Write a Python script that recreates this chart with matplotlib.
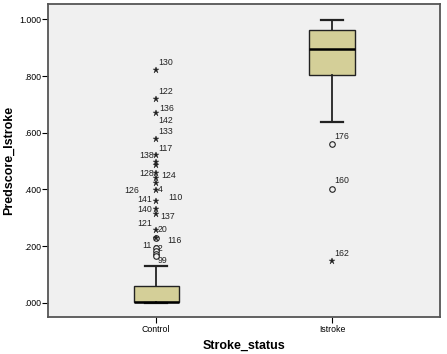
import matplotlib
matplotlib.use('Agg')
import matplotlib.pyplot as plt
from matplotlib.ticker import FuncFormatter

# groups and box statistics
groups = ['Control', 'Istroke']
q1 = [0.003, 0.803]
med = [0.004, 0.897]
q3 = [0.059, 0.963]
whis_lo = [0.000, 0.639]
whis_hi = [0.130, 0.997]

# outliers (circles) and extremes (stars) per group
control_circles = [0.230, 0.192, 0.182, 0.173, 0.165]
control_stars = [0.820, 0.718, 0.671, 0.577, 0.521, 0.496, 0.486, 0.457,
                 0.439, 0.424, 0.398, 0.360, 0.330, 0.312, 0.257, 0.230]
istroke_circles = [0.560, 0.401]
istroke_stars = [0.147]

# case labels: (group index, value, text, side, dx px, dy px)
case_labels = [
    (0, 0.820, '130', 'r', 2, 8),
    (0, 0.718, '122', 'r', 2, 8),
    (0, 0.671, '136', 'r', 3, 4),
    (0, 0.577, '142', 'r', 2, 19),
    (0, 0.577, '133', 'r', 2, 8),
    (0, 0.521, '117', 'r', 2, 7),
    (0, 0.521, '138', 'l', -2, 0),
    (0, 0.457, '128', 'l', -2, 0),
    (0, 0.457, '124', 'r', 5, -2),
    (0, 0.398, '126', 'l', -17, -1),
    (0, 0.398, '4', 'r', 2, 0),
    (0, 0.360, '141', 'l', -4, 1),
    (0, 0.360, '110', 'r', 12, 3),
    (0, 0.330, '140', 'l', -4, 0),
    (0, 0.312, '137', 'r', 4, -2),
    (0, 0.257, '121', 'l', -4, 6),
    (0, 0.257, '20', 'r', 2, 0),
    (0, 0.230, '116', 'r', 11, -3),
    (0, 0.192, '11', 'l', -4, 3),
    (0, 0.182, '82', 'r', -2, 3),
    (0, 0.165, '99', 'r', 2, -5),
    (1, 0.560, '176', 'r', 2, 8),
    (1, 0.401, '160', 'r', 2, 9),
    (1, 0.147, '162', 'r', 2, 8),
]

yticks = [0.0, 0.2, 0.4, 0.6, 0.8, 1.0]

plt.rcParams['font.family'] = ['Liberation Sans', 'DejaVu Sans']

fig = plt.figure(figsize=(4.47, 3.54), dpi=100)
ax = fig.add_axes([0.1074, 0.1045, 0.877, 0.8842])
ax.set_facecolor('#f0f0f0')

stats = []
for i in range(len(groups)):
    stats.append({'q1': q1[i], 'med': med[i], 'q3': q3[i],
                  'whislo': whis_lo[i], 'whishi': whis_hi[i],
                  'fliers': [], 'label': groups[i]})

positions = list(range(1, len(groups) + 1))
ax.bxp(stats, positions=positions, widths=0.256, capwidths=0.125,
       patch_artist=True, showfliers=False,
       boxprops=dict(facecolor='#d4cf98', edgecolor='#222222', linewidth=1.0),
       medianprops=dict(color='black', linewidth=1.8),
       whiskerprops=dict(color='#222222', linewidth=1.3),
       capprops=dict(color='#222222', linewidth=1.6))

# text first, markers on top (like the original, where stars cover digits)
for g, v, txt, side, dx, dy in case_labels:
    ax.annotate(txt, (positions[g], v), xytext=(dx * 0.72, dy * 0.72),
                textcoords='offset points', fontsize=6.3, color='#222222',
                ha='left' if side == 'r' else 'right', va='center', zorder=3)

ax.plot([positions[0]] * len(control_circles), control_circles, 'o',
        mfc='#f0f0f0', mec='#222222', ms=4, mew=0.8, zorder=4)
ax.plot([positions[0]] * len(control_stars), control_stars, '*',
        color='#222222', ms=5, mew=0.3, zorder=5)
ax.plot([positions[1]] * len(istroke_circles), istroke_circles, 'o',
        mfc='#f0f0f0', mec='#222222', ms=4, mew=0.8, zorder=4)
ax.plot([positions[1]] * len(istroke_stars), istroke_stars, '*',
        color='#222222', ms=5, mew=0.3, zorder=5)

ax.set_xlim(0.386, 2.614)
ax.set_ylim(-0.0505, 1.0544)
ax.set_xticks(positions)
ax.set_xticklabels(groups, fontsize=6.3)
ax.set_yticks(yticks)


def fmt(v, pos):
    s = '%.3f' % v
    return s[1:] if s.startswith('0') else s


ax.yaxis.set_major_formatter(FuncFormatter(fmt))
ax.tick_params(axis='y', labelsize=6.3, length=4, width=0.8, pad=1)
ax.tick_params(axis='x', length=4, width=0.8, pad=2)

for sp in ax.spines.values():
    sp.set_color('#555555')
    sp.set_linewidth(1.3)

ax.set_xlabel('Stroke_status', fontsize=9, fontweight='bold', labelpad=4)
ax.set_ylabel('Predscore_Istroke', fontsize=9, fontweight='bold', labelpad=3)

fig.savefig('out.png', dpi=100, facecolor='white')
